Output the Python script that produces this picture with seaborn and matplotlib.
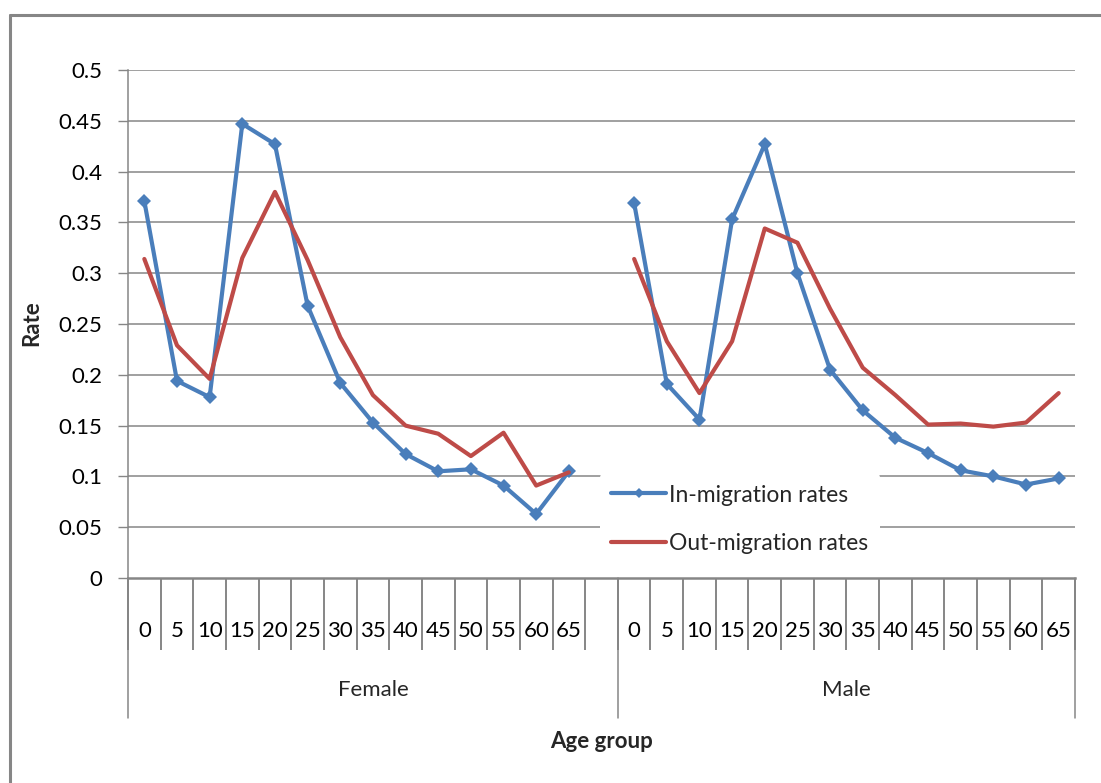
import numpy as np
import pandas as pd
import matplotlib
matplotlib.use("Agg")
import matplotlib.pyplot as plt
from matplotlib.lines import Line2D
import matplotlib.transforms as mtransforms
import seaborn as sns

# Age groups (start of 5-year band) and the two sexes
ages = ["0", "5", "10", "15", "20", "25", "30", "35", "40", "45", "50", "55", "60", "65"]
sexes = ["Female", "Male"]

# Migration rates by age group
female_in = [0.371, 0.194, 0.178, 0.447, 0.427, 0.268, 0.192, 0.153, 0.122, 0.105, 0.107, 0.091, 0.063, 0.105]
female_out = [0.314, 0.229, 0.196, 0.315, 0.380, 0.313, 0.237, 0.180, 0.150, 0.142, 0.120, 0.143, 0.091, 0.104]
male_in = [0.369, 0.191, 0.156, 0.353, 0.427, 0.300, 0.205, 0.165, 0.138, 0.123, 0.106, 0.100, 0.092, 0.098]
male_out = [0.314, 0.233, 0.182, 0.233, 0.344, 0.330, 0.265, 0.207, 0.180, 0.151, 0.152, 0.149, 0.153, 0.182]

series_names = ["In-migration rates", "Out-migration rates"]
colors = {"In-migration rates": "#4A7EBB", "Out-migration rates": "#BE4B48"}

# Category axis: Female block has one trailing empty slot, then the Male block
categories = ages + [""] + ages
offsets = {"Female": 0, "Male": len(ages) + 1}

rows = []
for sex, vin, vout in [("Female", female_in, female_out), ("Male", male_in, male_out)]:
    for name, vals in [(series_names[0], vin), (series_names[1], vout)]:
        for i, v in enumerate(vals):
            rows.append({"pos": offsets[sex] + i, "rate": v, "series": name, "sex": sex})
df = pd.DataFrame(rows)

sns.set_style("white")
plt.rcParams["font.family"] = ["Lato", "DejaVu Sans"]

FS = 16
W, H = 1101, 783
fig = plt.figure(figsize=(W / 100, H / 100), dpi=100)
L, R, T, B = 128, 1075, 70, 578
ax = fig.add_axes([L / W, 1 - B / H, (R - L) / W, (B - T) / H])

grid_c = "#868686"

# Horizontal gridlines
yt = np.round(np.arange(0, 0.5001, 0.05), 2)
for y in yt[1:]:
    ax.axhline(y, color=grid_c, lw=1.1, zorder=0)

for name in series_names:
    sub = df[df["series"] == name]
    marker = "D" if name.startswith("In") else None
    sns.lineplot(data=sub, x="pos", y="rate", units="sex", estimator=None,
                 color=colors[name], lw=3, marker=marker, markersize=7,
                 markeredgewidth=0, ax=ax, zorder=3, legend=False)

ax.set_xlim(-0.5, len(categories) - 0.5)
ax.set_ylim(0, 0.5)
ax.set_yticks(yt)
ax.set_yticklabels([f"{v:g}" for v in yt])
ax.tick_params(axis="y", left=True, length=7.2, width=1, color=grid_c, pad=11,
               labelsize=FS, labelcolor="black")

ax.set_xticks(np.arange(len(categories)))
ax.set_xticklabels(categories)
ax.set_xticks(np.arange(len(categories) + 1) - 0.5, minor=True)
ax.tick_params(axis="x", which="major", bottom=True, length=0, pad=31,
               labelsize=FS, labelcolor="black")
ax.tick_params(axis="x", which="minor", bottom=True, length=51.8, width=1.4,
               color=grid_c, direction="out")

for s in ["top", "right"]:
    ax.spines[s].set_visible(False)
ax.spines["left"].set_color(grid_c)
ax.spines["bottom"].set_color(grid_c)
ax.spines["left"].set_linewidth(1.1)
ax.spines["bottom"].set_linewidth(1.8)
ax.set_xlabel("")
ax.set_ylabel("")

# Group separators and group labels beneath the age labels
trans = mtransforms.blended_transform_factory(ax.transData, ax.transAxes)
sep_bottom = (B - 718) / (B - T)
for xb in [-0.5, len(ages) + 0.5, len(categories) - 0.5]:
    ax.add_line(Line2D([xb, xb], [0, sep_bottom], transform=trans, color=grid_c,
                       lw=1.1, clip_on=False))
grp_y = (B - 690) / (B - T)
for sex in sexes:
    n = len(ages) + 1 if sex == "Female" else len(ages)
    cx = offsets[sex] + (n - 1) / 2
    ax.text(cx, grp_y, sex, transform=trans, ha="center", va="center", fontsize=FS)

handles = [
    Line2D([], [], color=colors[series_names[0]], lw=3, marker="D", markersize=5, markeredgewidth=0),
    Line2D([], [], color=colors[series_names[1]], lw=3),
]
leg = ax.legend(handles, series_names, loc="lower left",
                bbox_to_anchor=((600 - L) / (R - L), (B - 565) / (B - T)),
                frameon=True, facecolor="white", edgecolor="none", framealpha=1,
                fontsize=16.5, handlelength=2.4, handletextpad=0.13, labelspacing=1.18,
                borderpad=0.5, borderaxespad=0)
leg.set_zorder(5)

fig.text(601 / W, 1 - 742 / H, "Age group", ha="center", va="center", fontsize=FS, fontweight="bold")
fig.text(32 / W, 1 - 323 / H, "Rate", ha="center", va="center", rotation=90, fontsize=FS, fontweight="bold")

# Chart frame
fig.add_artist(Line2D([10 / W, 10 / W], [0, 1 - 15 / H], transform=fig.transFigure, color=grid_c, lw=2.2))
fig.add_artist(Line2D([10 / W, 1], [1 - 15 / H, 1 - 15 / H], transform=fig.transFigure, color=grid_c, lw=2.2))

fig.savefig("out.png", dpi=100, facecolor="white")
